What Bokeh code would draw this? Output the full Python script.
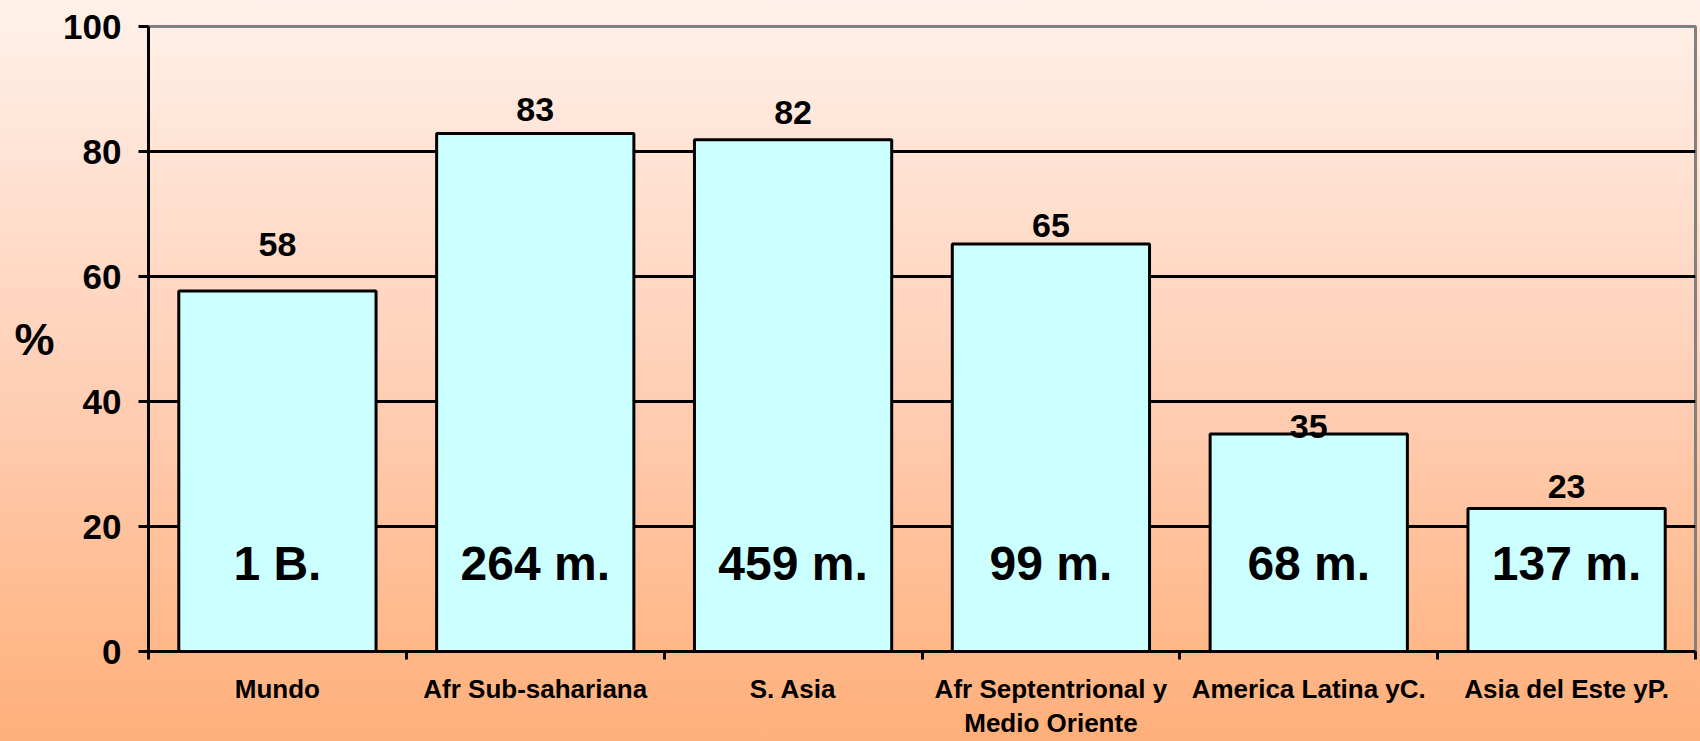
from bokeh.plotting import figure
from bokeh.models import Range1d, FixedTicker, LinearAxis, ColumnDataSource
from bokeh.core.properties import value
from bokeh.embed import file_html
from bokeh.resources import INLINE

# ---- data ----
categories = ["Mundo", "Afr Sub-sahariana", "S. Asia",
              "Afr Septentrional y\nMedio Oriente", "America Latina yC.", "Asia del Este yP."]
percent = [57.7, 82.9, 81.9, 65.2, 34.8, 22.9]
value_label_at = [65.1, 86.7, 86.3, 68.2, 36.0, 26.4]
population = ["1 B.", "264 m.", "459 m.", "99 m.", "68 m.", "137 m."]
y_ticks = [0, 20, 40, 60, 80, 100]
y_unit = "%"

FONT = "Liberation Sans"

xs = [i + 0.5 for i in range(len(categories))]
src = ColumnDataSource(dict(
    x=xs, top=percent,
    vlab=[str(int(round(v))) for v in percent],
    vlab_y=value_label_at,
    pop=population,
    pop_y=[14.1] * len(categories),
))

p = figure(width=1700, height=741, output_backend="svg", toolbar_location=None,
           x_range=Range1d(0, len(categories)), y_range=Range1d(0, 100),
           min_border_left=148, min_border_right=5, min_border_top=26, min_border_bottom=88)
p.styles = {"background": "linear-gradient(to bottom, #FFF1E9 0%, #FFD0B8 50%, #FFAF79 100%)"}
p.background_fill_alpha = 0
p.border_fill_alpha = 0
p.outline_line_color = "#808080"
p.outline_line_width = 3

# grid
p.xgrid.visible = False
p.ygrid.ticker = FixedTicker(ticks=[20, 40, 60, 80])
p.ygrid.grid_line_color = "black"
p.ygrid.grid_line_width = 3

# bars
p.vbar(x="x", top="top", width=0.765, source=src, fill_color="#CCFFFF",
       line_color="black", line_width=3)

# value labels above the bars
p.text(x="x", y="vlab_y", text="vlab", source=src, text_align="center",
       text_baseline="middle", text_font=value(FONT), text_font_style="bold",
       text_font_size="34px", text_color="black")
# population labels inside the bars
p.text(x="x", y="pop_y", text="pop", source=src, text_align="center",
       text_baseline="middle", text_font=value(FONT), text_font_style="bold",
       text_font_size="48px", text_color="black")

# y axis
ya = p.yaxis[0]
ya.ticker = FixedTicker(ticks=y_ticks)
ya.axis_line_color = "black"
ya.axis_line_width = 3
ya.major_tick_line_color = "black"
ya.major_tick_line_width = 3
ya.major_tick_in = 0
ya.major_tick_out = 10
ya.minor_tick_line_color = None
ya.major_label_standoff = 17
ya.major_label_text_font = FONT
ya.major_label_text_font_style = "bold"
ya.major_label_text_font_size = "35px"
ya.major_label_text_color = "black"

# "%" unit shown as a horizontal label left of the tick labels
ua = LinearAxis(ticker=FixedTicker(ticks=[50]), major_label_overrides={50: y_unit})
ua.axis_line_color = None
ua.major_tick_line_color = None
ua.minor_tick_line_color = None
ua.major_tick_in = 0
ua.major_tick_out = 0
ua.major_label_standoff = 6
ua.major_label_text_font = FONT
ua.major_label_text_font_style = "bold"
ua.major_label_text_font_size = "45px"
ua.major_label_text_color = "black"
p.add_layout(ua, "left")

# x axis: labels under bars, tick marks between categories
xa = p.xaxis[0]
xa.ticker = FixedTicker(ticks=xs, minor_ticks=list(range(len(categories) + 1)))
xa.major_label_overrides = {x: c for x, c in zip(xs, categories)}
xa.axis_line_color = "black"
xa.axis_line_width = 3
xa.major_tick_line_color = None
xa.major_tick_in = 0
xa.major_tick_out = 0
xa.minor_tick_line_color = "black"
xa.minor_tick_line_width = 3
xa.minor_tick_in = 0
xa.minor_tick_out = 8
xa.major_label_standoff = 14
xa.major_label_text_font = FONT
xa.major_label_text_font_style = "bold"
xa.major_label_text_font_size = "26px"
xa.major_label_text_color = "black"
xa.major_label_text_line_height = 1.15

open("out.html", "w").write(file_html(p, INLINE))
